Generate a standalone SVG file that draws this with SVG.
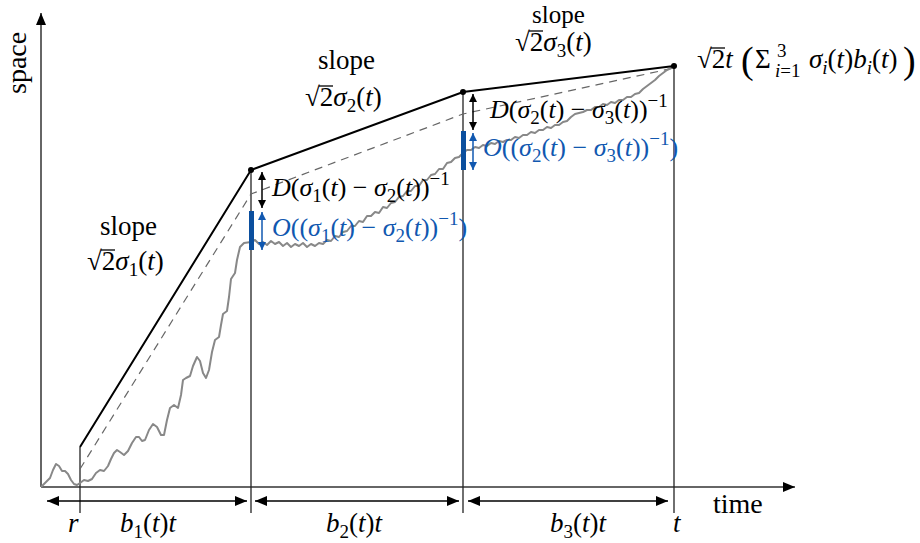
<svg xmlns="http://www.w3.org/2000/svg" width="920" height="543" viewBox="0 0 920 543">
<style>
.t{font-family:'Liberation Serif',serif;font-size:27px;fill:#000}
.g{font-size:26px}
.i{font-style:italic}
.s{font-size:19px}
.bl{fill:#1158b0}
.ax{stroke:#333;stroke-width:1.5;fill:none}
.vl{stroke:#222;stroke-width:1.3;fill:none}
.main{stroke:#000;stroke-width:2;fill:none}
.dash{stroke:#666;stroke-width:1.2;fill:none;stroke-dasharray:8 6}
.gray{stroke:#888;stroke-width:2;fill:none;stroke-linejoin:round}
.dim{stroke:#000;stroke-width:1.5;fill:none}
.sa{stroke:#000;stroke-width:1.5;fill:none}
.sab{stroke:#1158b0;stroke-width:1.5;fill:none}
.bar{fill:#0b4f9e}
.ov{stroke:#000;stroke-width:1.3}
</style>
<defs>
<marker id="ah" markerUnits="userSpaceOnUse" markerWidth="14" markerHeight="10" refX="12" refY="5" orient="auto-start-reverse"><path d="M0,0 L12,5 L0,10 z" fill="#000"/></marker>
<marker id="ahs" markerUnits="userSpaceOnUse" markerWidth="10" markerHeight="8" refX="8" refY="4" orient="auto-start-reverse"><path d="M0,0 L8,4 L0,8 z" fill="#000"/></marker>
<marker id="ahb" markerUnits="userSpaceOnUse" markerWidth="10" markerHeight="8" refX="8" refY="4" orient="auto-start-reverse"><path d="M0,0 L8,4 L0,8 z" fill="#1158b0"/></marker>
</defs>

<g id="axes">
<line class="ax" x1="41" y1="487" x2="41" y2="13" marker-end="url(#ah)"/>
<line class="ax" x1="41" y1="487" x2="795" y2="487" marker-end="url(#ah)"/>
<text class="t" style="font-size:28px" transform="translate(26,94) rotate(-90)">space</text>
<text class="t" style="font-size:28px" x="713" y="513">time</text>
</g>

<g id="connectors">
<line class="vl" x1="80" y1="447" x2="80" y2="513"/>
<line class="vl" x1="251" y1="170" x2="251" y2="513"/>
<line class="vl" x1="463" y1="92" x2="463" y2="513"/>
<line class="vl" x1="674" y1="66" x2="674" y2="513"/>
<line class="dim" x1="47" y1="501" x2="247" y2="501" marker-start="url(#ah)" marker-end="url(#ah)"/>
<line class="dim" x1="255" y1="501" x2="459" y2="501" marker-start="url(#ah)" marker-end="url(#ah)"/>
<line class="dim" x1="468" y1="501" x2="668" y2="501" marker-start="url(#ah)" marker-end="url(#ah)"/>
<polyline class="dash" points="80,469 251,194 463,114 674,68"/>
<polyline class="gray" points="41,487 46,482 50,478 53,470 56,464 59,466 62,471 65,471 68,474 71,480 74,484 77,485 80,483 84,480 88,481 92,479 96,473 100,470 104,471 108,466 111,459 114,453 117,450 120,452 124,455 128,451 132,443 136,437 139,437 142,441 145,440 149,430 153,424 157,427 161,435 164,435 167,420 170,408 174,405 178,408 181,395 183,380 186,378 190,376 193,366 197,357 200,361 203,373 206,378 209,370 212,352 215,340 219,337 221,325 223,314 227,311 229,297 231,279 235,273 237,260 240,247 244,243 251,242 255,240 259,244 263,242 267,245 271,241 275,244 279,242 283,246 287,243 291,247 295,244 299,246 303,243 307,247 311,244 315,246 319,243 323,244 327,240 331,241 335,236 339,237 343,232 347,231 351,226 355,226 359,221 363,222 367,216 371,216 375,212 379,213 383,207 387,208 391,203 395,202 399,197 403,196 407,191 411,191 415,186 419,186 423,180 427,180 431,175 435,174 439,169 443,169 447,163 451,162 455,158 459,157 463,153 467,150 471,150 475,147 479,148 483,145 487,146 491,143 495,144 499,141 503,142 507,140 511,140 515,137 519,138 523,135 527,135 531,132 535,133 539,130 543,130 547,127 551,128 555,125 559,125 563,122 567,121 571,117 575,114 579,113 583,112 587,110 591,110 595,107 599,107 603,104 607,105 611,102 615,103 619,100 623,100 627,97 631,97 635,94 639,93 643,89 647,86 651,83 655,80 659,76 663,73 667,70 671,68 674,66"/>
<polyline class="main" points="80,447 251,170 463,92 674,66"/>
<rect class="bar" x="249" y="211" width="5" height="39"/>
<rect class="bar" x="461" y="131" width="5" height="39"/>
<line class="sa" x1="262" y1="172" x2="262" y2="208" marker-start="url(#ahs)" marker-end="url(#ahs)"/>
<line class="sab" x1="262" y1="212" x2="262" y2="250" marker-start="url(#ahb)" marker-end="url(#ahb)"/>
<line class="sa" x1="473" y1="94" x2="473" y2="130" marker-start="url(#ahs)" marker-end="url(#ahs)"/>
<line class="sab" x1="473" y1="133" x2="473" y2="170" marker-start="url(#ahb)" marker-end="url(#ahb)"/>
</g>

<g id="p1"><circle cx="251" cy="170" r="3"/></g>
<g id="p2"><circle cx="463" cy="92" r="3"/></g>
<g id="p3"><circle cx="674" cy="66" r="3"/></g>

<g id="slope1">
<text class="t" x="100" y="235">slope</text>
<text class="t" x="87" y="270">√2<tspan class="i">σ</tspan><tspan class="s" dy="6">1</tspan><tspan dy="-6">(</tspan><tspan class="i">t</tspan>)</text>
<line class="ov" x1="101" y1="250" x2="115" y2="250"/>
</g>
<g id="slope2">
<text class="t" x="318" y="69">slope</text>
<text class="t" x="305" y="106">√2<tspan class="i">σ</tspan><tspan class="s" dy="6">2</tspan><tspan dy="-6">(</tspan><tspan class="i">t</tspan>)</text>
<line class="ov" x1="319" y1="86" x2="333" y2="86"/>
</g>
<g id="slope3">
<text class="t" style="font-size:25px" x="532" y="23">slope</text>
<text class="t" x="515" y="51">√2<tspan class="i">σ</tspan><tspan class="s" dy="6">3</tspan><tspan dy="-6">(</tspan><tspan class="i">t</tspan>)</text>
<line class="ov" x1="529" y1="31" x2="543" y2="31"/>
</g>
<g id="final">
<text class="t" x="697" y="68">√2<tspan class="i">t</tspan></text>
<line class="ov" x1="711" y1="48" x2="725" y2="48"/>
<text class="t" x="741" y="73" style="font-size:38px">(</text>
<text class="t" x="755" y="68">Σ</text>
<text class="t s" x="777" y="57">3</text>
<text class="t s" x="775" y="77"><tspan class="i">i</tspan>=1</text>
<text class="t" x="809" y="68"><tspan class="i">σ</tspan><tspan class="s i" dy="6">i</tspan><tspan dy="-6">(</tspan><tspan class="i">t</tspan>)<tspan class="i">b</tspan><tspan class="s i" dy="6">i</tspan><tspan dy="-6">(</tspan><tspan class="i">t</tspan>)</text>
<text class="t" x="903" y="73" style="font-size:38px">)</text>
</g>

<g id="gap1">
<text class="t g" x="272" y="196"><tspan class="i">D</tspan>(<tspan class="i">σ</tspan><tspan class="s" dy="6">1</tspan><tspan dy="-6">(</tspan><tspan class="i">t</tspan>) − <tspan class="i">σ</tspan><tspan class="s" dy="6">2</tspan><tspan dy="-6">(</tspan><tspan class="i">t</tspan>))<tspan class="s" dy="-11">−1</tspan></text>
<text class="t g bl" x="272" y="236"><tspan class="i">O</tspan>((<tspan class="i">σ</tspan><tspan class="s" dy="6">1</tspan><tspan dy="-6">(</tspan><tspan class="i">t</tspan>) − <tspan class="i">σ</tspan><tspan class="s" dy="6">2</tspan><tspan dy="-6">(</tspan><tspan class="i">t</tspan>))<tspan class="s" dy="-11">−1</tspan><tspan dy="11">)</tspan></text>
</g>
<g id="gap2">
<text class="t g" x="490" y="118"><tspan class="i">D</tspan>(<tspan class="i">σ</tspan><tspan class="s" dy="6">2</tspan><tspan dy="-6">(</tspan><tspan class="i">t</tspan>) − <tspan class="i">σ</tspan><tspan class="s" dy="6">3</tspan><tspan dy="-6">(</tspan><tspan class="i">t</tspan>))<tspan class="s" dy="-11">−1</tspan></text>
<text class="t g bl" x="483" y="156"><tspan class="i">O</tspan>((<tspan class="i">σ</tspan><tspan class="s" dy="6">2</tspan><tspan dy="-6">(</tspan><tspan class="i">t</tspan>) − <tspan class="i">σ</tspan><tspan class="s" dy="6">3</tspan><tspan dy="-6">(</tspan><tspan class="i">t</tspan>))<tspan class="s" dy="-11">−1</tspan><tspan dy="11">)</tspan></text>
</g>

<g id="bottom">
<text class="t i" x="68" y="532">r</text>
<text class="t" x="120" y="532"><tspan class="i">b</tspan><tspan class="s" dy="6">1</tspan><tspan dy="-6">(</tspan><tspan class="i">t</tspan>)<tspan class="i">t</tspan></text>
<text class="t" x="326" y="532"><tspan class="i">b</tspan><tspan class="s" dy="6">2</tspan><tspan dy="-6">(</tspan><tspan class="i">t</tspan>)<tspan class="i">t</tspan></text>
<text class="t" x="550" y="532"><tspan class="i">b</tspan><tspan class="s" dy="6">3</tspan><tspan dy="-6">(</tspan><tspan class="i">t</tspan>)<tspan class="i">t</tspan></text>
<text class="t i" x="673" y="532">t</text>
</g>
</svg>
